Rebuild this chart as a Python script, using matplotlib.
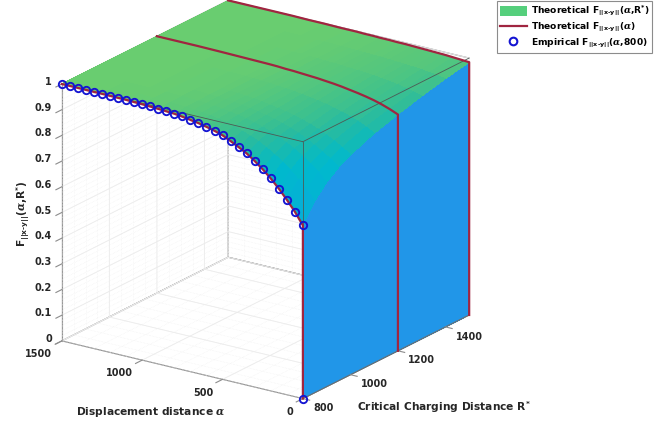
import numpy as np
import matplotlib
matplotlib.use('Agg')
import matplotlib.pyplot as plt
from matplotlib.colors import LinearSegmentedColormap
from matplotlib.lines import Line2D
from matplotlib.patches import Patch
from mpl_toolkits.mplot3d import proj3d

plt.rcParams['font.family'] = 'DejaVu Sans'
plt.rcParams['font.weight'] = 'bold'
plt.rcParams['mathtext.fontset'] = 'custom'
plt.rcParams['mathtext.rm'] = 'DejaVu Sans'
plt.rcParams['mathtext.it'] = 'DejaVu Serif:italic'
plt.rcParams['mathtext.bf'] = 'DejaVu Sans:bold'
plt.rcParams['grid.color'] = '#ebebeb'
plt.rcParams['grid.linewidth'] = 0.6

# empirical points at R* = 800
alpha_emp = [0, 0, 50, 100, 150, 200, 250, 300, 350, 400, 450, 500, 550, 600, 650, 700,
             750, 800, 850, 900, 950, 1000, 1050, 1100, 1150, 1200, 1250, 1300, 1350,
             1400, 1450, 1500]
F_emp = [0, 0.674, 0.720, 0.759, 0.795, 0.827, 0.855, 0.880, 0.902, 0.919, 0.935, 0.950,
         0.960, 0.968, 0.975, 0.980, 0.986, 0.989, 0.991, 0.994, 0.996, 0.996, 0.998,
         0.998, 0.999, 0.999, 0.999, 0.999, 0.999, 0.999, 1.0, 1.0]

# theoretical surface
alpha_grid = [0, 50, 100, 150, 200, 250, 300, 350, 400, 450, 500, 550, 600, 650, 700, 750, 800,
              900, 1000, 1100, 1250, 1500]
R_grid = [800, 850, 900, 950, 1000, 1100, 1200, 1300, 1400, 1500]
F_800 = [.674, .720, .759, .795, .827, .855, .880, .902, .919, .935, .950, .960, .968, .975, .980, .985, .989, .993, .996, .998, .999, 1.0]
F_850 = [.745, .782, .813, .842, .867, .889, .908, .925, .938, .950, .961, .969, .975, .981, .985, .988, .991, .994, .997, .998, .999, 1.0]
F_900 = [.795, .826, .852, .875, .895, .912, .927, .940, .951, .960, .968, .974, .979, .983, .987, .990, .992, .995, .997, .998, .999, 1.0]
F_950 = [.830, .855, .876, .894, .911, .926, .938, .949, .958, .965, .972, .977, .982, .986, .989, .991, .993, .996, .998, .999, .999, 1.0]
F_1000 = [.855, .877, .895, .911, .925, .937, .947, .956, .963, .969, .975, .980, .984, .987, .990, .992, .994, .996, .998, .999, .999, 1.0]
F_1100 = [.893, .910, .924, .936, .946, .954, .961, .967, .972, .977, .981, .984, .987, .990, .992, .994, .995, .997, .998, .999, 1.0, 1.0]
F_1200 = [.920, .933, .944, .953, .960, .966, .971, .976, .980, .983, .986, .988, .990, .992, .993, .995, .996, .997, .998, .999, 1.0, 1.0]
F_1300 = [.945, .954, .961, .967, .972, .976, .980, .983, .985, .987, .989, .991, .992, .994, .995, .996, .997, .998, .999, .999, 1.0, 1.0]
F_1400 = [.966, .971, .975, .979, .982, .984, .986, .988, .990, .991, .992, .993, .994, .995, .996, .997, .997, .998, .999, 1.0, 1.0, 1.0]
F_1500 = [.984, .986, .988, .990, .991, .992, .993, .994, .995, .995, .996, .996, .997, .997, .998, .998, .998, .999, .999, 1.0, 1.0, 1.0]

R_ticks = [800, 1000, 1200, 1400]
alpha_ticks = [0, 500, 1000, 1500]
z_ticks = [0, .1, .2, .3, .4, .5, .6, .7, .8, .9, 1]
z_labels = ['0', '0.1', '0.2', '0.3', '0.4', '0.5', '0.6', '0.7', '0.8', '0.9', '1']

W, H = 668, 425
fig = plt.figure(figsize=(W / 100, H / 100), dpi=100)
ax_size = 482
cx, cy = 259, 219
ax = fig.add_axes([(cx - ax_size / 2) / W, (cy - ax_size / 2) / H, ax_size / W, ax_size / H],
                  projection='3d', proj_type='ortho', computed_zorder=False)
ax.patch.set_alpha(0)
ax.set_box_aspect((294, 294, 275), zoom=1)
ax.view_init(elev=20.3, azim=-145.4)
ax.set_xlim(800, 1500, view_margin=0)
ax.set_ylim(0, 1500, view_margin=0)
ax.set_zlim(0, 1, view_margin=0)

ax.set_xticks(R_ticks)
ax.set_yticks(alpha_ticks)
ax.set_zticks(z_ticks)
ax.set_xticklabels([])
ax.set_yticklabels([])
ax.set_zticklabels([])

grey = '#8c8c8c'
for axis in (ax.xaxis, ax.yaxis, ax.zaxis):
    axis.set_pane_color((1, 1, 1, 1))
    axis.pane.set_edgecolor(grey)
    axis.pane.set_linewidth(0.8)
    axis.line.set_color(grey)
    axis.line.set_linewidth(0.8)
    axis._axinfo['tick']['inward_factor'] = 0
    axis._axinfo['tick']['outward_factor'] = 0

# minor grid on the three back walls
minor = dict(color='#eeeeee', lw=0.4, ls=':', zorder=1)
for r in np.arange(800, 1501, 50):
    ax.plot([r, r], [1500, 1500], [0, 1], **minor)
    ax.plot([r, r], [0, 1500], [0, 0], **minor)
for a in np.arange(0, 1501, 100):
    ax.plot([1500, 1500], [a, a], [0, 1], **minor)
    ax.plot([800, 1500], [a, a], [0, 0], **minor)
for z in np.arange(0, 1.001, 0.02):
    ax.plot([800, 1500], [1500, 1500], [z, z], **minor)
    ax.plot([1500, 1500], [0, 1500], [z, z], **minor)

z_lo = 0.66
stops = [(.66, (20, 160, 225)), (.72, (5, 175, 215)), (.84, (0, 185, 205)), (.88, (15, 186, 185)),
         (.925, (40, 187, 160)), (.97, (70, 195, 135)), (.99, (90, 200, 122)), (1.0, (105, 205, 112))]
cmap = LinearSegmentedColormap.from_list(
    'surf', [((z - z_lo) / (1 - z_lo), tuple(c / 255 for c in rgb)) for z, rgb in stops])

F = np.array([F_800, F_850, F_900, F_950, F_1000, F_1100, F_1200, F_1300, F_1400, F_1500]).T
RR, AA = np.meshgrid(R_grid, alpha_grid)
face = (F[:-1, :-1] + F[1:, :-1] + F[:-1, 1:] + F[1:, 1:]) / 4
cols = cmap((face - z_lo) / (1 - z_lo))
ax.plot_surface(RR, AA, F, facecolors=cols, rstride=1, cstride=1, shade=False,
                linewidth=0, antialiased=False, zorder=3)

# front wall at alpha = 0
wall_R = np.array([R_grid, R_grid])
wall_a = np.zeros_like(wall_R)
wall_z = np.array([np.zeros(len(R_grid)), F[0]])
ax.plot_surface(wall_R, wall_a, wall_z, color='#2196e8', rstride=1, cstride=1, shade=False,
                linewidth=0, antialiased=False, zorder=2)

# box lines in front of the surface
box = dict(color='#4d5a55', lw=0.6, zorder=4)
ax.plot([800, 800], [0, 1500], [1, 1], **box)
ax.plot([800, 1500], [0, 0], [1, 1], **box)
ax.plot([800, 800], [0, 0], [F_800[0], 1], **box)
ax.plot([800, 1500], [0, 0], [0, 0], color='#6e6e6e', lw=0.8, zorder=4)

dark_red = '#a02540'
for r, col in zip(R_grid, F.T):
    if r in (800, 1200, 1500):
        ax.plot([r] * (len(alpha_grid) + 1), [0] + alpha_grid, np.r_[0, col],
                color=dark_red, lw=1.6, zorder=5)

ax.plot([800] * len(alpha_emp), alpha_emp, F_emp, ls='none', marker='o', ms=5.3, mfc='none',
        mec='#1414d2', mew=1.35, zorder=6)

ink = '#262626'


def tick_text(x, y, z, s, ha):
    # 2D text placed at the projected 3D position
    px, py, _ = proj3d.proj_transform(x, y, z, ax.get_proj())
    ax.text2D(px, py, s, transform=ax.transData, ha=ha, va='center', fontsize=7, color=ink)


tick = dict(color=grey, lw=0.8, zorder=4)
for r in R_ticks:
    ax.plot([r, r], [0, -42], [0, 0], **tick)
    tick_text(r, -65, -0.028, str(r), 'left')
for a in alpha_ticks:
    ax.plot([800, 772], [a, a], [0, 0], **tick)
    tick_text(760, a, -0.033, str(a), 'right')
for z, lab in zip(z_ticks, z_labels):
    ax.plot([800, 775], [1500, 1500], [z, z], **tick)
    tick_text(758, 1500, z + 0.027, lab, 'right')

fig.text(151 / W, 1 - 412 / H, r'Displacement distance $\alpha$', ha='center', va='center',
         fontsize=7.7, color=ink)
fig.text(357 / W, 1 - 407 / H, r'Critical Charging Distance R$^{\mathbf{*}}$', ha='left', va='center',
         fontsize=7.7, color=ink)
fig.text(23 / W, 1 - 214 / H, r'F$_{\mathbf{||x}\text{-}\mathbf{y||}}$($\alpha$,R$^{\mathbf{*}}$)',
         rotation=90, ha='center', va='center', fontsize=7.7, color=ink)

handles = [Patch(facecolor='#55cf7c', edgecolor='none'),
           Line2D([], [], color=dark_red, lw=1.6),
           Line2D([], [], ls='none', marker='o', ms=5.5, mfc='none', mec='#1414d2', mew=1.5)]
labels = [r'Theoretical F$_{\mathbf{||x}\text{-}\mathbf{y||}}$($\alpha$,R$^{\mathbf{*}}$)',
          r'Theoretical F$_{\mathbf{||x}\text{-}\mathbf{y||}}$($\alpha$)',
          r'Empirical F$_{\mathbf{||x}\text{-}\mathbf{y||}}$($\alpha$,800)']
leg = fig.legend(handles, labels, loc='upper left', bbox_to_anchor=(497 / W, 1 - 1 / H),
                 borderaxespad=0, fontsize=6.6, frameon=True, fancybox=False, framealpha=1,
                 edgecolor=grey, handlelength=3, handleheight=1.25, handletextpad=0.4,
                 labelspacing=0.3, borderpad=0.3)
leg.get_frame().set_linewidth(0.8)

fig.savefig('out.png', dpi=100)
